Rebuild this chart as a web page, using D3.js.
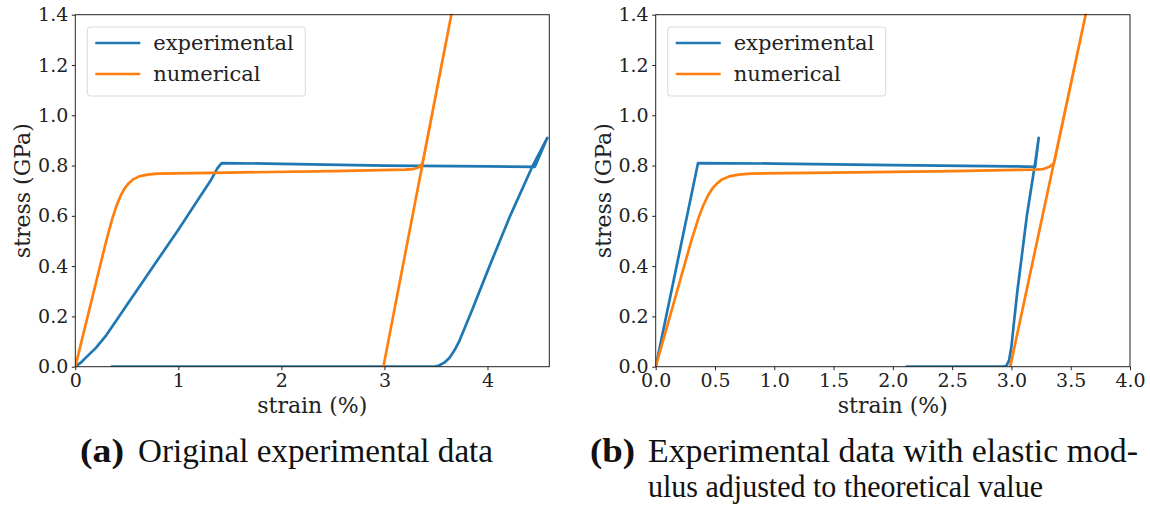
<!DOCTYPE html>
<html><head><meta charset="utf-8">
<script src="https://cdn.jsdelivr.net/npm/d3@7"></script>
<style>
html,body{margin:0;padding:0;background:#fff;}
svg{display:block;}
</style></head>
<body>
<svg id="c" width="1150" height="506"></svg>
<script>
// ---------- data ----------
// (a) original experimental data
const aExpStrain = [0, 0.05, 0.10, 0.20, 0.30, 0.40, 0.50, 0.60, 0.80, 1.00, 1.20, 1.32, 1.38, 1.42, 2.0, 3.0, 4.0, 4.46, 4.58,
                    4.44, 4.22, 4.02, 3.85, 3.78, 3.73, 3.68, 3.63, 3.58, 3.53, 3.48, 0.355];
const aExpStress = [0, 0.015, 0.035, 0.075, 0.125, 0.185, 0.245, 0.305, 0.425, 0.545, 0.67, 0.745, 0.79, 0.81, 0.807, 0.80, 0.797, 0.795, 0.91,
                    0.80, 0.60, 0.40, 0.225, 0.155, 0.105, 0.065, 0.035, 0.016, 0.005, 0, 0];
const aNumStrain = [0, 0.30, 0.36, 0.40, 0.44, 0.48, 0.52, 0.56, 0.62, 0.70, 0.80, 1.5, 2.5, 3.20, 3.28, 3.33, 3.37, 3.72, 2.99];
const aNumStress = [0, 0.50, 0.59, 0.64, 0.68, 0.71, 0.73, 0.745, 0.757, 0.764, 0.768, 0.772, 0.778, 0.784, 0.786, 0.792, 0.81, 1.55, 0];
// (b) elastic modulus adjusted
const bExpStrain = [0, 0.357, 1.0, 2.0, 3.0, 3.20, 3.23, 3.20, 3.17, 3.13, 3.09, 3.05, 3.02, 3.00, 2.98, 2.96, 2.93, 2.115];
const bExpStress = [0, 0.81, 0.808, 0.802, 0.797, 0.795, 0.91, 0.81, 0.72, 0.60, 0.45, 0.30, 0.17, 0.08, 0.025, 0.005, 0, 0];
const bNumStrain = [0, 0.30, 0.36, 0.40, 0.44, 0.48, 0.52, 0.56, 0.62, 0.70, 0.80, 1.5, 2.5, 3.20, 3.27, 3.32, 3.36, 3.68, 2.99];
const bNumStress = [0, 0.50, 0.59, 0.64, 0.68, 0.71, 0.73, 0.745, 0.757, 0.764, 0.768, 0.772, 0.778, 0.784, 0.786, 0.795, 0.81, 1.52, 0];

const yTicks = [0, 0.2, 0.4, 0.6, 0.8, 1.0, 1.2, 1.4];
const aXTicks = [0, 1, 2, 3, 4];
const bXTicks = [0, 0.5, 1.0, 1.5, 2.0, 2.5, 3.0, 3.5, 4.0];
const seriesNames = ["experimental", "numerical"];
const captionA = ["(a)", "Original experimental data"];
const captionB = ["(b)", "Experimental data with elastic mod-", "ulus adjusted to theoretical value"];

// ---------- drawing ----------
const svg = d3.select("#c");
const BLUE = "#1f77b4", ORANGE = "#ff7f0e";
const FONT = "DejaVu Serif";

function panel(id, x0, x1, xMax, xTicks, xFmt, exp, num) {
  const top = 14.7, bottom = 366.7;
  const x = d3.scaleLinear().domain([0, xMax]).range([x0, x1]);
  const y = d3.scaleLinear().domain([0, 1.4]).range([bottom, top]);
  const g = svg.append("g");
  g.append("clipPath").attr("id", "clip" + id).append("rect")
    .attr("x", x0).attr("y", top - 1).attr("width", x1 - x0 + 1).attr("height", bottom - top + 1);

  const line = d3.line().x(d => x(d[0])).y(d => y(d[1]));
  const plot = g.append("g").attr("clip-path", `url(#clip${id})`);
  [[exp, BLUE], [num, ORANGE]].forEach(([s, c]) => {
    const pts = s[0].map((v, i) => [v, s[1][i]]);
    plot.append("path").attr("d", line(pts)).attr("fill", "none")
      .attr("stroke", c).attr("stroke-width", 2.7).attr("stroke-linejoin", "round").attr("stroke-linecap", "round");
  });

  // spines
  g.append("rect").attr("x", x0).attr("y", top).attr("width", x1 - x0).attr("height", bottom - top)
    .attr("fill", "none").attr("stroke", "#222").attr("stroke-width", 1);

  const xa = g.append("g").attr("transform", `translate(0,${bottom})`)
    .call(d3.axisBottom(x).tickValues(xTicks).tickFormat(xFmt).tickSize(3.5).tickSizeOuter(0).tickPadding(3.5));
  const ya = g.append("g").attr("transform", `translate(${x0},0)`)
    .call(d3.axisLeft(y).tickValues(yTicks).tickFormat(d3.format(".1f")).tickSize(3.5).tickSizeOuter(0).tickPadding(3.5));
  [xa, ya].forEach(a => {
    a.attr("font-family", FONT).attr("font-size", 19);
    a.select(".domain").remove();
    a.selectAll("line").attr("stroke", "#222").attr("stroke-width", 1);
    a.selectAll("text").attr("font-family", FONT).attr("font-size", 19).attr("fill", "#222");
  });

  g.append("text").attr("x", (x0 + x1) / 2).attr("y", 413).attr("text-anchor", "middle")
    .attr("font-family", FONT).attr("font-size", 22).attr("fill", "#222").text("strain (%)");
  g.append("text").attr("transform", `translate(${x0 - 45},${(top + bottom) / 2}) rotate(-90)`)
    .attr("text-anchor", "middle").attr("font-family", FONT).attr("font-size", 22).attr("fill", "#222")
    .text("stress (GPa)");

  // legend
  const lx = x0 + 12, ly = 27;
  g.append("rect").attr("x", lx).attr("y", ly).attr("width", 218).attr("height", 69).attr("rx", 3)
    .attr("fill", "#fff").attr("fill-opacity", 0.8).attr("stroke", "#d9d9d9").attr("stroke-width", 1);
  [BLUE, ORANGE].forEach((c, i) => {
    const yy = ly + 16 + i * 31;
    g.append("line").attr("x1", lx + 8).attr("x2", lx + 53).attr("y1", yy).attr("y2", yy)
      .attr("stroke", c).attr("stroke-width", 2.7);
    g.append("text").attr("x", lx + 66).attr("y", yy + 7).attr("font-family", FONT).attr("font-size", 21)
      .attr("fill", "#222").text(seriesNames[i]);
  });
}

panel("a", 75.3, 549.3, 4.6, aXTicks, d3.format("d"), [aExpStrain, aExpStress], [aNumStrain, aNumStress]);
panel("b", 655.7, 1130, 4.0, bXTicks, d3.format(".1f"), [bExpStrain, bExpStress], [bNumStrain, bNumStress]);

// captions
const CF = "Liberation Serif";
function cap(x, y, txt, bold, len, size) {
  const t = svg.append("text").attr("x", x).attr("y", y).attr("font-family", CF)
    .attr("font-size", size || 33).attr("fill", "#111").text(txt);
  if (bold) t.attr("font-weight", "bold");
  if (len) t.attr("textLength", len).attr("lengthAdjust", "spacingAndGlyphs");
}
cap(80, 462, captionA[0], true, 44);
cap(138, 462, captionA[1], false, 355);
cap(590, 462, captionB[0], true, 45);
cap(648, 462, captionB[1], false, 490);
cap(648, 497, captionB[2], false, 395, 32);
</script>
</body></html>
